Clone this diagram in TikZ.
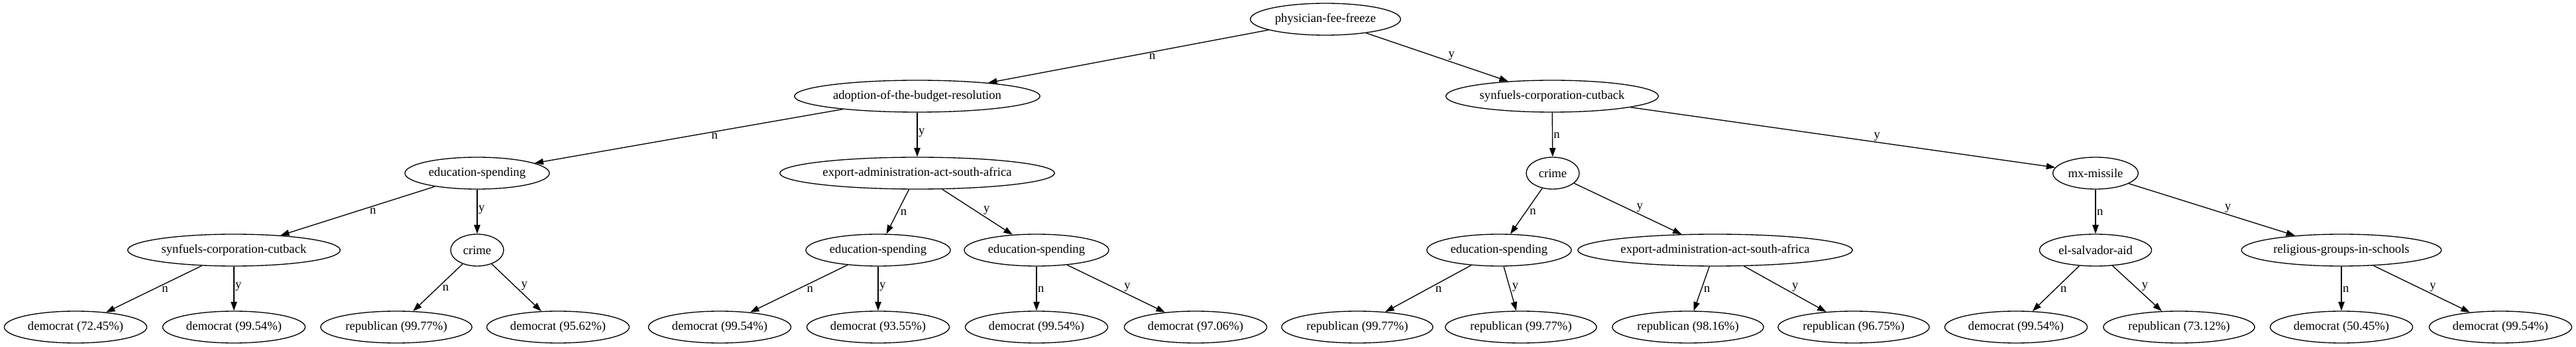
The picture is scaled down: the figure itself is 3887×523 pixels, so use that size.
\documentclass[tikz,border=0pt]{standalone}
\usepackage{fontspec}
\setmainfont{Liberation Serif}
\usetikzlibrary{arrows.meta,shapes.geometric}
\definecolor{treeink}{HTML}{000000}
\tikzset{
  splitbox/.style={ellipse, draw=treeink, line width=1pt,
    font=\fontsize{14pt}{16pt}\selectfont, text=treeink,
    inner xsep=3pt, inner ysep=2pt, minimum width=60pt, minimum height=36pt},
  leafbox/.style={splitbox},
  treeflow/.style={-{Triangle[length=10pt,width=7pt]}, draw=treeink, line width=1pt},
  edgelab/.style={font=\fontsize{14pt}{16pt}\selectfont, text=treeink,
    inner xsep=1pt, inner ysep=0pt, text height=7pt, text depth=3pt},
  nlab/.style={edgelab, pos=.43, anchor=north west},
  ylab/.style={edgelab, pos=.57, anchor=south west}
}

\begin{document}
\begin{tikzpicture}[x=0.75pt,y=-0.75pt]
  % Vote tree: each split is a bill, each leaf the party with its share.
  \useasboundingbox (0,0) rectangle (3887,523);
  \node[splitbox] (physician) at (2000,29) {physician-fee-freeze};

  \node[splitbox] (budget) at (1384,145) {adoption-of-the-budget-resolution};
  \node[splitbox] (synfuels) at (2342,145) {synfuels-corporation-cutback};

  \node[splitbox] (educ) at (720,261) {education-spending};
  \node[splitbox] (export) at (1384,261) {export-administration-act-south-africa};
  \node[splitbox] (crime) at (2343,261) {crime};
  \node[splitbox] (missile) at (3162,261) {mx-missile};

  \node[splitbox] (synfuelsB) at (353,377) {synfuels-corporation-cutback};
  \node[splitbox] (crimeB) at (720,377) {crime};
  \node[splitbox] (educB) at (1325,377) {education-spending};
  \node[splitbox] (educC) at (1564,377) {education-spending};
  \node[splitbox] (educD) at (2262,377) {education-spending};
  \node[splitbox] (exportB) at (2588,377) {export-administration-act-south-africa};
  \node[splitbox] (salvador) at (3162,377) {el-salvador-aid};
  \node[splitbox] (religious) at (3533,377) {religious-groups-in-schools};

  \node[leafbox] (leaf1) at (114,493) {democrat (72.45\%)};
  \node[leafbox] (leaf2) at (353,493) {democrat (99.54\%)};
  \node[leafbox] (leaf3) at (598,493) {republican (99.77\%)};
  \node[leafbox] (leaf4) at (842,493) {democrat (95.62\%)};
  \node[leafbox] (leaf5) at (1086,493) {democrat (99.54\%)};
  \node[leafbox] (leaf6) at (1325,493) {democrat (93.55\%)};
  \node[leafbox] (leaf7) at (1564,493) {democrat (99.54\%)};
  \node[leafbox] (leaf8) at (1804,493) {democrat (97.06\%)};
  \node[leafbox] (leaf9) at (2048,493) {republican (99.77\%)};
  \node[leafbox] (leaf10) at (2295,493) {republican (99.77\%)};
  \node[leafbox] (leaf11) at (2547,493) {republican (98.16\%)};
  \node[leafbox] (leaf12) at (2797,493) {republican (96.75\%)};
  \node[leafbox] (leaf13) at (3042,493) {democrat (99.54\%)};
  \node[leafbox] (leaf14) at (3288,493) {republican (73.12\%)};
  \node[leafbox] (leaf15) at (3533,493) {democrat (50.45\%)};
  \node[leafbox] (leaf16) at (3773,493) {democrat (99.54\%)};

  \draw[treeflow] (physician) -- node[nlab] {n} (budget);
  \draw[treeflow] (physician) -- node[ylab] {y} (synfuels);

  \draw[treeflow] (budget) -- node[nlab] {n} (educ);
  \draw[treeflow] (budget) -- node[ylab] {y} (export);
  \draw[treeflow] (synfuels) -- node[nlab] {n} (crime);
  \draw[treeflow] (synfuels) -- node[ylab] {y} (missile);

  \draw[treeflow] (educ) -- node[nlab] {n} (synfuelsB);
  \draw[treeflow] (educ) -- node[ylab] {y} (crimeB);
  \draw[treeflow] (export) -- node[nlab] {n} (educB);
  \draw[treeflow] (export) -- node[ylab] {y} (educC);
  \draw[treeflow] (crime) -- node[nlab] {n} (educD);
  \draw[treeflow] (crime) -- node[ylab] {y} (exportB);
  \draw[treeflow] (missile) -- node[nlab] {n} (salvador);
  \draw[treeflow] (missile) -- node[ylab] {y} (religious);

  \draw[treeflow] (synfuelsB) -- node[nlab] {n} (leaf1);
  \draw[treeflow] (synfuelsB) -- node[ylab] {y} (leaf2);
  \draw[treeflow] (crimeB) -- node[nlab] {n} (leaf3);
  \draw[treeflow] (crimeB) -- node[ylab] {y} (leaf4);
  \draw[treeflow] (educB) -- node[nlab] {n} (leaf5);
  \draw[treeflow] (educB) -- node[ylab] {y} (leaf6);
  \draw[treeflow] (educC) -- node[nlab] {n} (leaf7);
  \draw[treeflow] (educC) -- node[ylab] {y} (leaf8);
  \draw[treeflow] (educD) -- node[nlab] {n} (leaf9);
  \draw[treeflow] (educD) -- node[ylab] {y} (leaf10);
  \draw[treeflow] (exportB) -- node[nlab] {n} (leaf11);
  \draw[treeflow] (exportB) -- node[ylab] {y} (leaf12);
  \draw[treeflow] (salvador) -- node[nlab] {n} (leaf13);
  \draw[treeflow] (salvador) -- node[ylab] {y} (leaf14);
  \draw[treeflow] (religious) -- node[nlab] {n} (leaf15);
  \draw[treeflow] (religious) -- node[ylab] {y} (leaf16);
\end{tikzpicture}
\end{document}
